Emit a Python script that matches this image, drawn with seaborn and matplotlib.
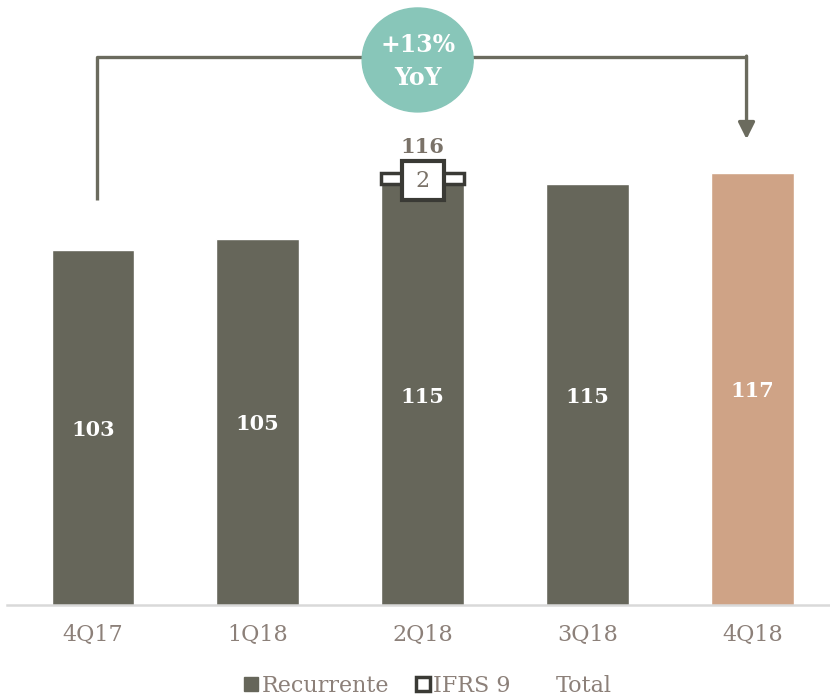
import matplotlib.pyplot as plt
import pandas as pd
import seaborn as sns
from matplotlib.lines import Line2D
from matplotlib.patches import Ellipse, Rectangle

quarters = ['4Q17', '1Q18', '2Q18', '3Q18', '4Q18']
recurrente = [103, 105, 115, 115, 117]
ifrs9 = [0, 0, 2, 0, 0]
totals = [None, None, 116, None, None]
yoy_label = '+13%\nYoY'

grey = '#66665a'
copper = '#cfa386'
teal = '#88c6b9'
text_col = '#8c8079'
dark_text = '#7a7268'
box_edge = '#3a3a35'

sns.set_style("white")
plt.rcParams['font.family'] = ['DejaVu Serif']

df = pd.DataFrame({'quarter': quarters, 'recurrente': recurrente, 'ifrs9': ifrs9})
palette = {q: (copper if q == '4Q18' else grey) for q in quarters}

fig = plt.figure(figsize=(8.30, 6.99), dpi=100)
ax = fig.add_axes([7 / 830, 94 / 699, 823 / 830, 605 / 699])

sns.barplot(data=df, x='quarter', y='recurrente', hue='quarter', palette=palette,
            width=0.5, saturation=1, legend=False, ax=ax)

# IFRS 9 stacked piece + its label box
for i, (r, v) in enumerate(zip(recurrente, ifrs9)):
    if v:
        ax.bar(i, v, bottom=r, width=0.5, color='white', edgecolor=box_edge,
               linewidth=2.5, zorder=3)
        mid = r + v / 2 - 0.4
        ax.add_patch(Rectangle((i - 0.127, mid - 3.55), 0.254, 7.1, fc='white',
                               ec=box_edge, lw=3, zorder=4))
        ax.text(i, mid, str(v), ha='center', va='center', fontsize=16,
                color=dark_text, zorder=5)

for i, r in enumerate(recurrente):
    ax.text(i, (38.5 + r) / 2 - 0.4, str(r), ha='center', va='center', fontsize=15,
            fontweight='bold', color='white')

for i, t in enumerate(totals):
    if t is not None:
        ax.text(i, 121.8, str(t), ha='center', va='center', fontsize=15,
                fontweight='bold', color=dark_text)

ax.set_xlim(-0.52, 4.47)
ax.set_ylim(38.5, 148.5)

# YoY bracket
ax.plot([0.024, 0.024, 3.964], [112.1, 138.1, 138.1], color='#6b6b5e', lw=2.4,
        solid_capstyle='butt', zorder=2)
ax.annotate('', xy=(3.964, 123.2), xytext=(3.964, 138.3),
            arrowprops=dict(arrowstyle='-|>,head_width=0.5,head_length=1.0',
                            color='#6b6b5e', lw=2.4, shrinkA=0, shrinkB=0), zorder=2)
ax.add_patch(Ellipse((1.97, 137.6), 0.673, 18.9, color=teal, zorder=4))
ax.text(1.97, 137.3, yoy_label, ha='center', va='center', fontsize=17,
        fontweight='bold', color='white', linespacing=1.45, zorder=5)

ax.set_xlabel('')
ax.set_ylabel('')
ax.set_yticks([])
ax.tick_params(axis='x', length=0, pad=14, labelsize=16, labelcolor=text_col)
for s in ['left', 'right', 'top']:
    ax.spines[s].set_visible(False)
ax.spines['bottom'].set_color('#d9d9d9')
ax.spines['bottom'].set_linewidth(1.8)

handles = [
    Line2D([], [], marker='s', ls='', markersize=10, color=grey),
    Line2D([], [], marker='s', ls='', markersize=10, markerfacecolor='white',
           markeredgecolor=box_edge, markeredgewidth=2.5),
    Line2D([], [], ls='', marker=None),
]
fig.legend(handles, ['Recurrente', 'IFRS 9', 'Total'], loc='center',
           bbox_to_anchor=(0.515, 0.019), ncol=3, frameon=False, fontsize=16,
           labelcolor=text_col, handlelength=0.7, handletextpad=0.1,
           columnspacing=1.2)

fig.savefig('out.png', dpi=100, facecolor='white')
